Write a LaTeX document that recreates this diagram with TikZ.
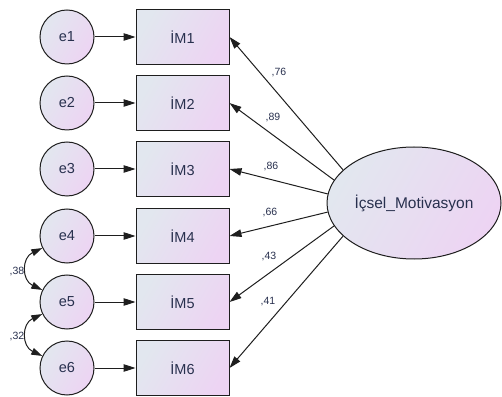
\documentclass[tikz,border=0pt]{standalone}
\usepackage{fontspec}
\setmainfont{Liberation Sans}
\usetikzlibrary{arrows.meta,shapes.geometric}
\definecolor{fillA}{RGB}{226,231,239}
\definecolor{fillB}{RGB}{237,212,243}
\definecolor{txt}{RGB}{40,48,78}
\definecolor{ln}{RGB}{30,30,30}
\begin{document}
\begin{tikzpicture}[x=1pt,y=1pt,
  errnode/.style={circle,draw=ln,line width=1pt,minimum size=54pt,inner sep=0pt,
    left color=fillA,right color=fillB,shading angle=60,text=txt,font=\fontsize{14.5}{16}\selectfont},
  obsnode/.style={rectangle,draw=ln,line width=1pt,minimum width=93pt,minimum height=55pt,inner sep=0pt,
    left color=fillA,right color=fillB,shading angle=60,text=txt,font=\fontsize{14.5}{16}\selectfont},
  latnode/.style={ellipse,draw=ln,line width=1pt,minimum width=174pt,minimum height=112pt,inner sep=0pt,
    left color=fillA,right color=fillB,shading angle=60,text=txt,font=\fontsize{15.5}{17}\selectfont},
  coef/.style={text=txt,font=\fontsize{10.5}{12}\selectfont,inner sep=0pt},
  arr/.style={draw=ln,line width=1pt,-{Triangle[length=12pt,width=7.5pt]}},
  covarr/.style={draw=ln,line width=1pt,{Triangle[length=11pt,width=7pt]}-{Triangle[length=11pt,width=7pt]}}
]
\useasboundingbox (0,0) rectangle (502,396);
\foreach \i/\y in {1/359,2/293,3/227,4/160,5/94,6/28}{
  \node[errnode] (e\i) at (67,\y) {e\i};
  \node[obsnode] (m\i) at (182.5,\y) {İM\i};
  \draw[arr] (e\i.east) -- (m\i.west);
}
\node[latnode] (lat) at (414,193) {İçsel\_Motivasyon};
\draw[arr] (lat.155) -- (m1.east);
\draw[arr] (lat.164) -- (m2.east);
\draw[arr] (lat.174) -- (m3.east);
\draw[arr] (lat.186) -- (m4.east);
\draw[arr] (lat.196) -- (m5.east);
\draw[arr] (lat.205) -- (m6.east);
\node[coef] (c1) at (279,323) {,76};
\node[coef] (c2) at (273,278) {,89};
\node[coef] (c3) at (271,229) {,86};
\node[coef] (c4) at (270,183) {,66};
\node[coef] (c5) at (269,139) {,43};
\node[coef] (c6) at (268,94) {,41};
\draw[covarr] (e4.206) to[out=205,in=155,looseness=1.4] (e5.154);
\draw[covarr] (e5.206) to[out=205,in=155,looseness=1.4] (e6.154);
\node[coef] (k1) at (17,124) {,38};
\node[coef] (k2) at (17,59) {,32};
\end{tikzpicture}
\end{document}
